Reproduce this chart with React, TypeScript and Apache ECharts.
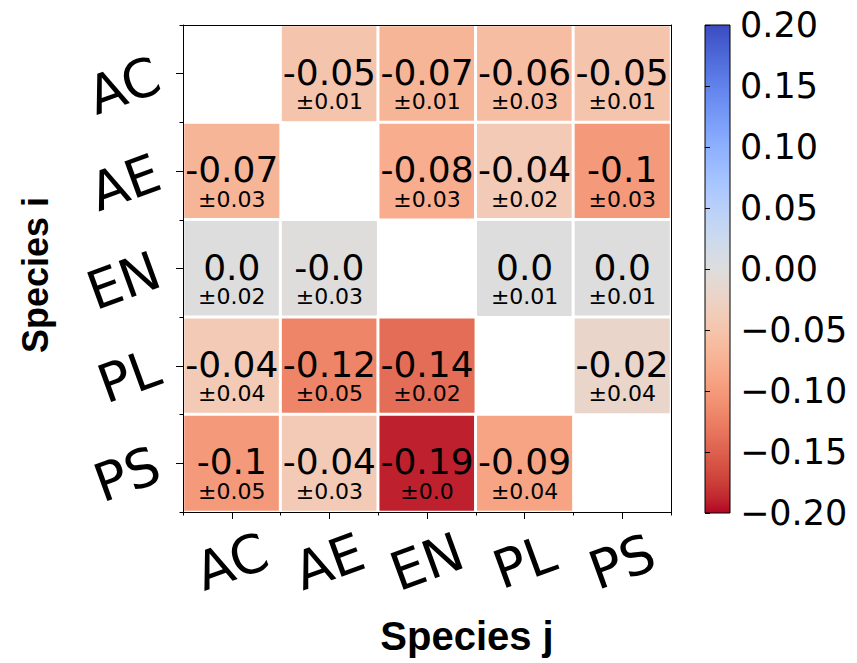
import React, { useEffect, useRef } from 'react';
import * as echarts from 'echarts';

// Species labels (rows = Species i, columns = Species j)
const SPECIES = ['AC', 'AE', 'EN', 'PL', 'PS'];

// Mean interaction values; null = diagonal (not drawn)
const MEAN_AC = [null, -0.05, -0.07, -0.06, -0.05];
const MEAN_AE = [-0.07, null, -0.08, -0.04, -0.1];
const MEAN_EN = [0.0, -0.001, null, 0.0, 0.0];
const MEAN_PL = [-0.04, -0.12, -0.14, null, -0.02];
const MEAN_PS = [-0.1, -0.04, -0.19, -0.09, null];

// Uncertainties (±)
const ERR_AC = [null, 0.01, 0.01, 0.03, 0.01];
const ERR_AE = [0.03, null, 0.03, 0.02, 0.03];
const ERR_EN = [0.02, 0.03, null, 0.01, 0.01];
const ERR_PL = [0.04, 0.05, 0.02, null, 0.04];
const ERR_PS = [0.05, 0.03, 0.0, 0.04, null];

// Colour bar range / ticks
const CB_MIN = -0.2;
const CB_MAX = 0.2;
const CB_STEP = 0.05;

// matplotlib "coolwarm" samples (blue -> grey -> red)
const COOLWARM = [
  '#3b4cc0', '#445acc', '#4d68d7', '#5775e1', '#6282ea', '#6c8ef1', '#779af7', '#82a5fb',
  '#8db0fe', '#98b9ff', '#a3c2ff', '#aec9fd', '#b8d0f9', '#c2d5f4', '#ccd9ee', '#d5dbe6',
  '#dddddd', '#e5d8d1', '#ecd3c5', '#f1ccb8', '#f5c4ac', '#f7bb9f', '#f7b193', '#f7a686',
  '#f49a7b', '#f18d6f', '#ec7f63', '#e57059', '#de604d', '#d55042', '#cb3e38', '#c0282f',
  '#b40426',
];

const MEANS = [MEAN_AC, MEAN_AE, MEAN_EN, MEAN_PL, MEAN_PS];
const ERRS = [ERR_AC, ERR_AE, ERR_EN, ERR_PL, ERR_PS];

const fmt = (v: number) => {
  const r = Math.round(v * 100) / 100;
  if (r === 0) return v < 0 ? '-0.0' : '0.0';
  const s = String(r);
  return s.includes('.') ? s : s + '.0';
};

const cbFmt = (v: number) => {
  const s = Math.abs(v).toFixed(2);
  return v < -1e-9 ? '\u2212' + s : s;
};

const FONT = 'DejaVu Sans';
const BLACK = '#000';

export default function App() {
  const ref = useRef<HTMLDivElement>(null);

  useEffect(() => {
    if (!ref.current) return;
    const chart = echarts.init(ref.current, null, { renderer: 'svg' });

    const cells: any[] = [];
    MEANS.forEach((row, i) =>
      row.forEach((v, j) => {
        if (v !== null) cells.push([j, i, v, ERRS[i][j]]);
      })
    );

    const stops = COOLWARM.map((c, i) => ({ offset: i / (COOLWARM.length - 1), color: c }));
    const lineStyle = { color: BLACK, width: 1 };

    const option: any = {
      animation: false,
      textStyle: { fontFamily: FONT },
      grid: [
        { left: 183, top: 25, width: 488, height: 487 },
        { left: 705, top: 25, width: 25, height: 488 },
      ],
      xAxis: [
        {
          type: 'category', data: SPECIES, gridIndex: 0, position: 'bottom', z: 10,
          axisLine: { show: true, lineStyle },
          axisTick: { show: true, alignWithLabel: true, length: 7, lineStyle },
          axisLabel: {
            interval: 0, rotate: 20, align: 'center', verticalAlign: 'middle', margin: 50,
            fontSize: 53, color: BLACK, fontFamily: FONT,
          },
          splitLine: { show: false },
          name: 'Species j', nameLocation: 'middle', nameGap: 104,
          nameTextStyle: {
            fontFamily: 'Liberation Sans', fontWeight: 'bold', fontSize: 40, color: BLACK,
            padding: [0, 0, 0, 80],
          },
        },
        {
          type: 'category', data: SPECIES, gridIndex: 0, position: 'bottom', z: 10,
          axisLine: { show: false },
          axisTick: { show: true, length: 3.5, lineStyle },
          axisLabel: { show: false }, splitLine: { show: false },
        },
        {
          type: 'category', data: SPECIES, gridIndex: 0, position: 'top', z: 10,
          axisLine: { show: true, lineStyle },
          axisTick: { show: false }, axisLabel: { show: false }, splitLine: { show: false },
        },
        { type: 'value', gridIndex: 1, min: 0, max: 1, show: false },
      ],
      yAxis: [
        {
          type: 'category', data: SPECIES, gridIndex: 0, inverse: true, position: 'left', z: 10,
          axisLine: { show: true, lineStyle },
          axisTick: { show: true, alignWithLabel: true, length: 7, lineStyle },
          axisLabel: {
            interval: 0, rotate: 20, margin: 25, fontSize: 53, color: BLACK, fontFamily: FONT,
          },
          splitLine: { show: false },
          name: 'Species i', nameLocation: 'middle', nameGap: 130, nameRotate: 90,
          nameTextStyle: {
            fontFamily: 'Liberation Sans', fontWeight: 'bold', fontSize: 36, color: BLACK,
            padding: [0, 13, 0, 0],
          },
        },
        {
          type: 'category', data: SPECIES, gridIndex: 0, inverse: true, position: 'left', z: 10,
          axisLine: { show: false },
          axisTick: { show: true, length: 3.5, lineStyle },
          axisLabel: { show: false }, splitLine: { show: false },
        },
        {
          type: 'category', data: SPECIES, gridIndex: 0, inverse: true, position: 'right', z: 10,
          axisLine: { show: true, lineStyle },
          axisTick: { show: false }, axisLabel: { show: false }, splitLine: { show: false },
        },
        {
          type: 'value', gridIndex: 1, min: CB_MIN, max: CB_MAX, interval: CB_STEP, position: 'right',
          z: 10,
          axisLine: { show: false },
          axisTick: { show: true, length: 5, lineStyle },
          axisLabel: { margin: 10, fontSize: 35, color: BLACK, fontFamily: FONT, formatter: cbFmt },
          splitLine: { show: false },
        },
      ],
      visualMap: {
        type: 'continuous', show: false, min: CB_MIN, max: CB_MAX, dimension: 2, seriesIndex: 0,
        inRange: { color: COOLWARM.slice().reverse() },
      },
      series: [
        {
          type: 'heatmap', xAxisIndex: 0, yAxisIndex: 0, data: cells,
          itemStyle: { borderColor: '#fff', borderWidth: 3 },
          emphasis: { disabled: true },
          label: {
            show: true, color: BLACK, offset: [0, 10],
            formatter: (p: any) => `{v|${fmt(p.data[2])}}\n{e|\u00b1${fmt(p.data[3])}}`,
            rich: {
              v: { fontSize: 36, lineHeight: 36, fontFamily: FONT, color: BLACK },
              e: { fontSize: 22, lineHeight: 23, fontFamily: FONT, color: BLACK },
            },
          },
        },
        {
          type: 'custom', xAxisIndex: 3, yAxisIndex: 3, silent: true,
          data: [[0, CB_MIN, CB_MAX]],
          renderItem: (params: any, api: any) => {
            const top = api.coord([0, api.value(2)]);
            const bot = api.coord([0, api.value(1)]);
            const cs = params.coordSys;
            return {
              type: 'rect',
              shape: { x: cs.x, y: top[1], width: cs.width, height: bot[1] - top[1] },
              style: {
                fill: new echarts.graphic.LinearGradient(0, 0, 0, 1, stops),
                stroke: BLACK, lineWidth: 1,
              },
            };
          },
        },
      ],
    };

    chart.setOption(option);
    return () => chart.dispose();
  }, []);

  return (
    <div
      ref={ref}
      style={{ position: 'fixed', left: 0, top: 0, width: 857, height: 663, background: '#fff' }}
    />
  );
}
